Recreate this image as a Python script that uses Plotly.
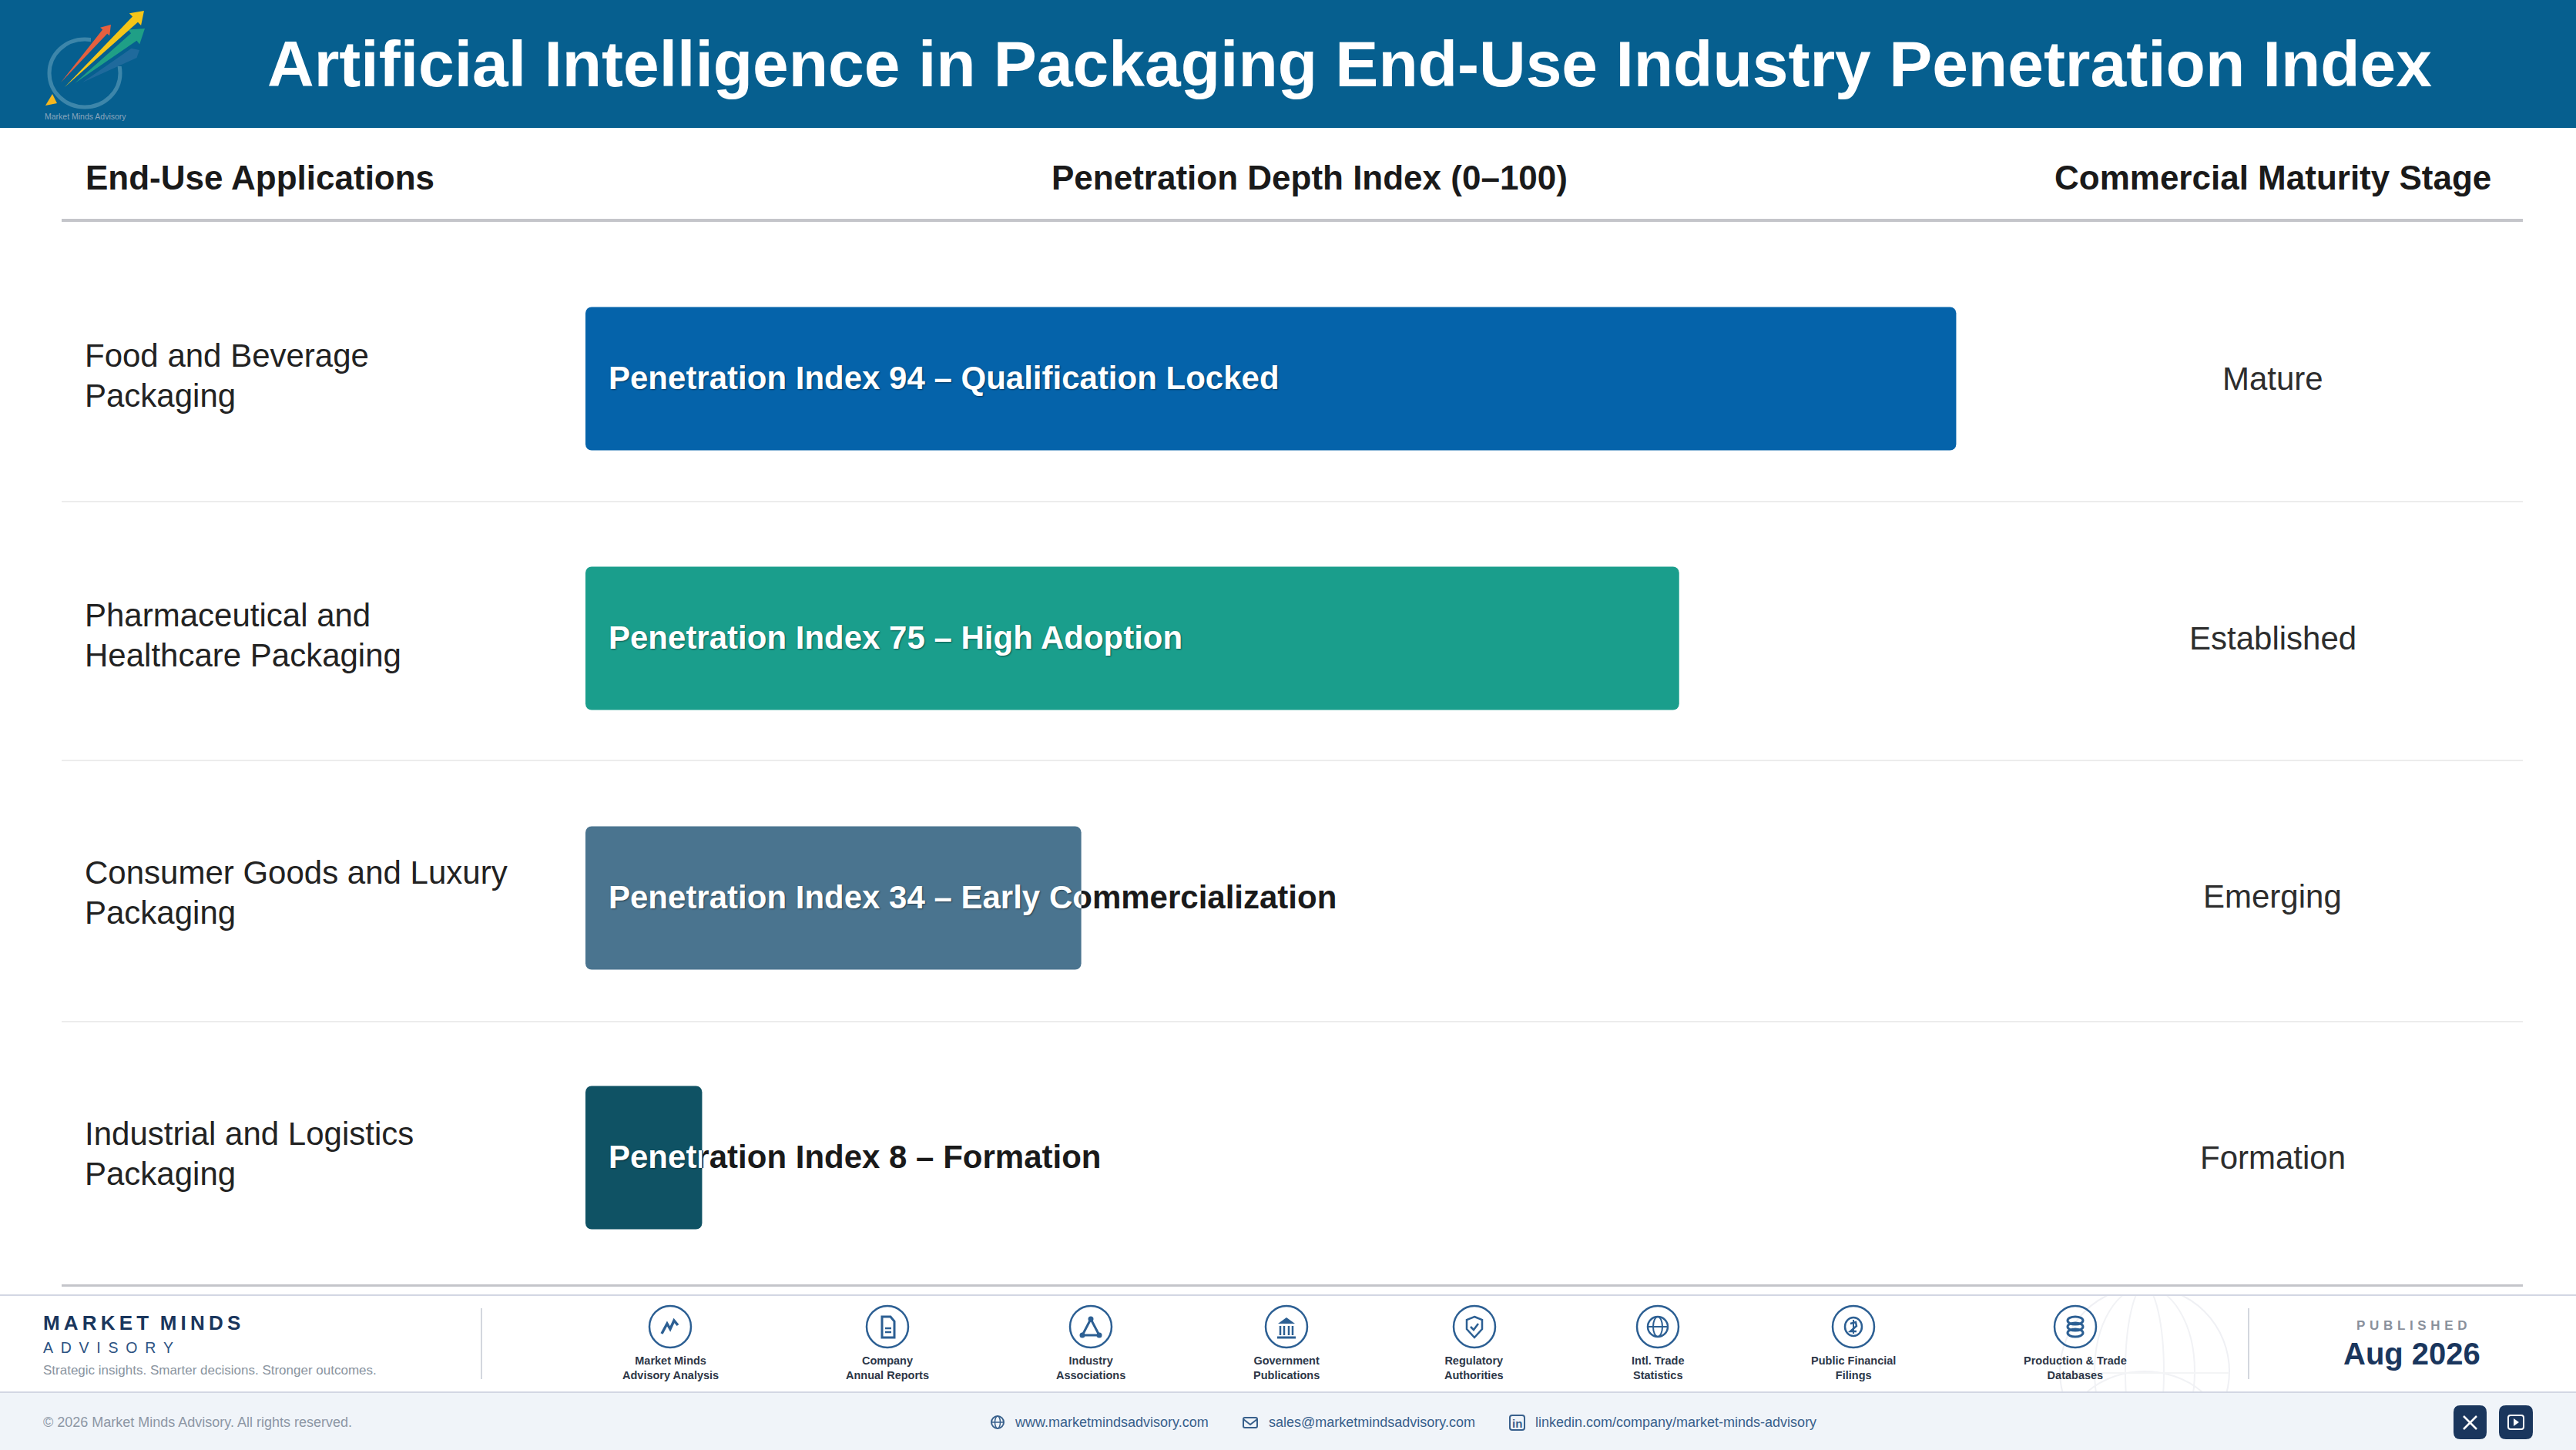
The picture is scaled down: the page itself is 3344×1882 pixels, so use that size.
import math

import plotly.graph_objects as go

WIDTH = 3344
HEIGHT = 1882
FONT = "Liberation Sans"

# chart data
applications = [
    "Food and Beverage<br>Packaging",
    "Pharmaceutical and<br>Healthcare Packaging",
    "Consumer Goods and Luxury<br>Packaging",
    "Industrial and Logistics<br>Packaging",
]
index_values = [94, 75, 34, 8]
adoption_labels = ["Qualification Locked", "High Adoption", "Early Commercialization", "Formation"]
maturity_stages = ["Mature", "Established", "Emerging", "Formation"]
bar_colors = ["#0563aa", "#1a9e8c", "#4a748f", "#0f5264"]

source_labels = [
    "Market Minds<br>Advisory Analysis",
    "Company<br>Annual Reports",
    "Industry<br>Associations",
    "Government<br>Publications",
    "Regulatory<br>Authorities",
    "Intl. Trade<br>Statistics",
    "Public Financial<br>Filings",
    "Production & Trade<br>Databases",
]
source_centers = [870, 1152, 1416, 1670, 1914, 2152, 2406, 2694]

NAVY = "#1a365d"
ICON_BLUE = "#2c5f93"
BAND = "#065f8f"

# pixel geometry of the chart area
BAR_LEFT = 760
PX_PER_UNIT = 18.93
ROW_STEP = 337
FIRST_ROW = 491.5
LABEL_PAD = 30 / PX_PER_UNIT
TEXT_DROP = 2.5
row_text_y = [492, 829, 1163.5, 1502]


def px(x):
    return x / WIDTH


def py(y):
    return 1 - y / HEIGHT


def path_of(points, close=False):
    parts = [f"{'M' if i == 0 else 'L'}{px(x):.5f},{py(y):.5f}" for i, (x, y) in enumerate(points)]
    return " ".join(parts) + (" Z" if close else "")


def poly(points, color=None, width=0, fill=None, close=False, layer="above"):
    return dict(type="path", path=path_of(points, close), xref="paper", yref="paper", layer=layer,
                line=dict(color=color or "rgba(0,0,0,0)", width=width),
                fillcolor=fill or "rgba(0,0,0,0)")


def oval(cx, cy, rx, ry, color=None, width=0, fill=None, layer="above"):
    return dict(type="circle", xref="paper", yref="paper", layer=layer,
                x0=px(cx - rx), x1=px(cx + rx), y0=py(cy + ry), y1=py(cy - ry),
                line=dict(color=color or "rgba(0,0,0,0)", width=width),
                fillcolor=fill or "rgba(0,0,0,0)")


def box(x0, y0, x1, y1, fill, layer="above"):
    return dict(type="rect", xref="paper", yref="paper", layer=layer,
                x0=px(x0), x1=px(x1), y0=py(y1), y1=py(y0),
                line=dict(width=0), fillcolor=fill)


def round_box(x0, y0, x1, y1, r, color=None, width=0, fill=None):
    p = (f"M{px(x0 + r):.5f},{py(y0):.5f} L{px(x1 - r):.5f},{py(y0):.5f} "
         f"Q{px(x1):.5f},{py(y0):.5f} {px(x1):.5f},{py(y0 + r):.5f} "
         f"L{px(x1):.5f},{py(y1 - r):.5f} Q{px(x1):.5f},{py(y1):.5f} {px(x1 - r):.5f},{py(y1):.5f} "
         f"L{px(x0 + r):.5f},{py(y1):.5f} Q{px(x0):.5f},{py(y1):.5f} {px(x0):.5f},{py(y1 - r):.5f} "
         f"L{px(x0):.5f},{py(y0 + r):.5f} Q{px(x0):.5f},{py(y0):.5f} {px(x0 + r):.5f},{py(y0):.5f} Z")
    return dict(type="path", path=p, xref="paper", yref="paper", layer="above",
                line=dict(color=color or "rgba(0,0,0,0)", width=width),
                fillcolor=fill or "rgba(0,0,0,0)")


def dart(tail, tip, shaft, head, head_len, fill):
    # long thin logo arrow: point at the tail, widening to the head
    dx, dy = tip[0] - tail[0], tip[1] - tail[1]
    n = math.hypot(dx, dy)
    ux, uy = dx / n, dy / n
    nx, ny = -uy, ux
    bx, by = tip[0] - ux * head_len, tip[1] - uy * head_len
    pts = [tail,
           (bx + nx * shaft, by + ny * shaft), (bx + nx * head, by + ny * head), tip,
           (bx - nx * head, by - ny * head), (bx - nx * shaft, by - ny * shaft)]
    return poly(pts, fill=fill, close=True)


def note(x, y, text, size, color, bold=False, anchor="left"):
    return dict(x=px(x), y=py(y), xref="paper", yref="paper", text=f"<b>{text}</b>" if bold else text,
                showarrow=False, xanchor=anchor, yanchor="middle", align=anchor,
                font=dict(family=FONT, size=size, color=color), borderpad=0, borderwidth=0)


def offset(cx, cy, pts):
    return [(cx + a, cy + b) for a, b in pts]


def source_icon(i, cx, cy):
    c = ICON_BLUE
    out = [oval(cx, cy, 27, 27, c, 2.5)]
    if i == 0:
        out.append(poly(offset(cx, cy, [(-11, 9), (-4, -4), (0, 3), (5, -8), (10, -2)]), c, 3.5))
    elif i == 1:
        out.append(poly(offset(cx, cy, [(-7, -13), (4, -13), (9, -7), (9, 14), (-7, 14)]), c, 3, close=True))
        out.append(poly(offset(cx, cy, [(-3, 2), (5, 2)]), c, 2.5))
        out.append(poly(offset(cx, cy, [(-3, 7), (5, 7)]), c, 2.5))
    elif i == 2:
        out.append(poly(offset(cx, cy, [(0, -10), (-11, 11), (11, 11)]), c, 3, close=True))
        for a, b in [(0, -10), (-11, 11), (11, 11)]:
            out.append(oval(cx + a, cy + b, 3.5, 3.5, fill=c))
    elif i == 3:
        out.append(poly(offset(cx, cy, [(0, -12), (-11, -4), (11, -4)]), fill=c, close=True))
        for a in [-8, -3, 3, 8]:
            out.append(poly(offset(cx, cy, [(a, -1), (a, 11)]), c, 2.5))
        out.append(poly(offset(cx, cy, [(-12, 14), (12, 14)]), c, 3))
    elif i == 4:
        out.append(poly(offset(cx, cy, [(0, -13), (10, -9), (10, 3), (0, 14), (-10, 3), (-10, -9)]), c, 2.5, close=True))
        out.append(poly(offset(cx, cy, [(-5, 0), (-1, 4), (5, -4)]), c, 2.5))
    elif i == 5:
        out.append(oval(cx, cy, 13, 13, c, 2.5))
        out.append(oval(cx, cy, 6, 13, c, 2))
        out.append(poly(offset(cx, cy, [(-13, 0), (13, 0)]), c, 2))
    elif i == 6:
        out.append(oval(cx, cy, 11, 12, c, 2.5))
        out.append(poly(offset(cx, cy, [(-4, -4), (3, -6), (4, -1), (-4, 6), (4, 6)]), c, 2.5))
        out.append(poly(offset(cx, cy, [(0, -9), (0, 9)]), c, 2))
    else:
        for b in [-8, 0, 8]:
            out.append(oval(cx, cy + b, 10, 5, c, 3))
    return out


# shapes, in drawing order
shapes = []
# globe watermark in the footer, masked by the bands drawn after it
globe_c = (2784, 1780)
shapes.append(oval(*globe_c, 110, 110, "#eff0f4", 2, layer="below"))
shapes.append(oval(*globe_c, 65, 110, "#f1f2f5", 2, layer="below"))
shapes.append(oval(*globe_c, 25, 110, "#f1f2f5", 2, layer="below"))
shapes.append(oval(globe_c[0], globe_c[1] + 90, 105, 90, "#f1f2f5", 2, layer="below"))
shapes.append(poly([(2674, 1782), (2894, 1782)], "#f3f4f6", 2, layer="below"))
shapes.append(box(2660, 1660, 2910, 1680, "#ffffff", layer="below"))

# header band and footer band
shapes.append(box(0, 0, WIDTH, 166, BAND, layer="below"))
shapes.append(box(0, 1807, WIDTH, HEIGHT, "#f0f4f9", layer="below"))
shapes.append(box(0, 1680, WIDTH, 1682, "#d3d7e3", layer="below"))
shapes.append(box(0, 1806, WIDTH, 1808, "#d3d7e3", layer="below"))

# table rules
shapes.append(box(80, 284, 3275, 288, "#c4c5ca", layer="below"))
shapes.append(box(80, 1667, 3275, 1670, "#c4c5ca", layer="below"))
for y in [651, 987, 1326]:
    shapes.append(box(80, y - 1, 3275, y + 1, "#ececec", layer="below"))
shapes.append(box(624, 1698, 626, 1790, "#d3d7de", layer="below"))
shapes.append(box(2918, 1698, 2920, 1790, "#d3d7de", layer="below"))

# logo
shapes.append(oval(110, 95, 46, 44, "#3d86aa", 5))
shapes.append(box(118, 40, 172, 86, BAND))
shapes.append(dart((107, 107), (181, 65), 7, 7, 8, "#1f6a9c"))
shapes.append(dart((79, 107), (144, 32), 4, 8, 12, "#e4603f"))
shapes.append(dart((97, 108), (188, 37), 6, 12, 18, "#1f9f86"))
shapes.append(dart((84, 113), (187, 14), 5, 11, 16, "#f5c518"))
shapes.append(poly([(59, 137), (68, 122), (74, 134)], fill="#f5b71f", close=True))

for i, cx in enumerate(source_centers):
    shapes.extend(source_icon(i, cx, 1722))

# contact icons on the bottom band
link_c = "#38608c"
shapes.append(oval(1295, 1846, 8, 8, link_c, 2))
shapes.append(oval(1295, 1846, 3.5, 8, link_c, 1.5))
shapes.append(poly([(1287, 1846), (1303, 1846)], link_c, 1.5))
shapes.append(round_box(1614, 1840, 1632, 1853, 2, link_c, 2))
shapes.append(poly([(1614, 1842), (1623, 1849), (1632, 1842)], link_c, 2))
shapes.append(round_box(1960, 1837, 1979, 1856, 3, link_c, 2))

# social buttons
shapes.append(round_box(3185, 1824, 3228, 1868, 9, fill=NAVY))
shapes.append(round_box(3244, 1824, 3288, 1868, 9, fill=NAVY))
shapes.append(poly([(3198, 1838), (3215, 1855)], "#ffffff", 2.5))
shapes.append(poly([(3215, 1838), (3198, 1855)], "#ffffff", 2.5))
shapes.append(round_box(3256, 1837, 3276, 1855, 3, "#ffffff", 2))
shapes.append(poly([(3263, 1841), (3263, 1851), (3270, 1846)], fill="#ffffff", close=True))

# texts
annotations = [
    note(1752, 83, "Artificial Intelligence in Packaging End-Use Industry Penetration Index", 84, "#ffffff", True, "center"),
    note(111, 231, "End-Use Applications", 44, "#1a1a1a", True),
    note(1700, 231, "Penetration Depth Index (0–100)", 44, "#1a1a1a", True, "center"),
    note(2950, 231, "Commercial Maturity Stage", 44, "#1a1a1a", True, "center"),
    note(58, 151, "Market Minds Advisory", 10.5, "#8aa6bd"),
    note(56, 1717, "M\u2009A\u2009R\u2009K\u2009E\u2009T  M\u2009I\u2009N\u2009D\u2009S", 26, NAVY, True),
    note(56, 1749, "A\u2002D\u2002V\u2002I\u2002S\u2002O\u2002R\u2002Y", 19.5, "#2c5282"),
    note(56, 1778, "Strategic insights. Smarter decisions. Stronger outcomes.", 17, "#8a94a0"),
    note(3131, 1720, "P\u2004U\u2004B\u2004L\u2004I\u2004S\u2004H\u2004E\u2004D", 17, "#8a919c", True, "center"),
    note(3131, 1757, "Aug 2026", 40, NAVY, True, "center"),
    note(56, 1846, "© 2026 Market Minds Advisory. All rights reserved.", 18, "#8d97a5"),
    note(1317, 1846, "www.marketmindsadvisory.com", 18, link_c),
    note(1647, 1846, "sales@marketmindsadvisory.com", 18, link_c),
    note(1993, 1846, "linkedin.com/company/market-minds-advisory", 18, link_c),
    note(1969.5, 1847, "in", 15, link_c, True, "center"),
]
for i, name in enumerate(applications):
    y = row_text_y[i]
    first, second = name.split("<br>")
    annotations.append(note(110, y - 31, first, 42, "#222222"))
    annotations.append(note(110, y + 21, second, 42, "#222222"))
    annotations.append(note(2950, y, maturity_stages[i], 42, "#2d2d2d", False, "center"))
for cx, name in zip(source_centers, source_labels):
    annotations.append(note(cx, 1775.5, name, 14.5, "#2d3748", True, "center"))

bar_text = [f"Penetration Index {v} – {s}" for v, s in zip(index_values, adoption_labels)]
pad_x = [LABEL_PAD] * len(index_values)

fig = go.Figure()
# dark labels sit under the bars, the white copies are clipped to each bar below
fig.add_trace(go.Scatter(x=pad_x, y=applications, mode="text", text=bar_text, textposition="middle right",
                         textfont=dict(family=FONT, size=42, color="#1a1a1a", weight="bold"),
                         xaxis="x", yaxis="y2", hoverinfo="skip"))
fig.add_trace(go.Bar(x=index_values, y=applications, base=[0] * len(index_values), orientation="h",
                     marker=dict(color=bar_colors, line=dict(width=0)), width=186 / ROW_STEP,
                     xaxis="x2", yaxis="y", hovertemplate="%{y}: %{x}<extra></extra>"))
for i, v in enumerate(index_values):
    fig.add_trace(go.Scatter(x=[LABEL_PAD], y=[applications[i]], mode="text", text=[bar_text[i]],
                             textposition="middle right", cliponaxis=True,
                             textfont=dict(family=FONT, size=42, color="#ffffff", weight="bold",
                                           shadow="1px 1px 2px rgba(0,0,0,0.45)"),
                             xaxis=f"x{i + 3}", yaxis="y2", hoverinfo="skip"))

hidden = dict(visible=False, fixedrange=True, showgrid=False, zeroline=False)
full_right = px(BAR_LEFT + 100 * PX_PER_UNIT)
layout_axes = {
    "xaxis": dict(hidden, domain=[px(BAR_LEFT), full_right], range=[0, 100], anchor="y2"),
    "xaxis2": dict(hidden, domain=[px(BAR_LEFT), full_right], range=[0, 100], anchor="y"),
}
for i, v in enumerate(index_values):
    layout_axes[f"xaxis{i + 3}"] = dict(hidden, domain=[px(BAR_LEFT), px(BAR_LEFT + v * PX_PER_UNIT)],
                                        range=[0, v], anchor="y2")


def row_axis(anchor, drop):
    return dict(hidden, type="category", categoryorder="array", categoryarray=applications,
                range=[3.5, -0.5], anchor=anchor,
                domain=[py(FIRST_ROW + drop + 3.5 * ROW_STEP), py(FIRST_ROW + drop - 0.5 * ROW_STEP)])


fig.update_layout(
    width=WIDTH,
    height=HEIGHT,
    margin=dict(l=0, r=0, t=0, b=0),
    paper_bgcolor="#ffffff",
    plot_bgcolor="rgba(0,0,0,0)",
    showlegend=False,
    barcornerradius=8,
    yaxis=row_axis("x2", 0),
    yaxis2=row_axis("x", TEXT_DROP),
    shapes=shapes,
    annotations=annotations,
    **layout_axes,
)

# the page's default body margin would shift the fixed-size figure
fig.write_html("out.html", config={"displayModeBar": False}, post_script="document.body.style.margin='0';")
